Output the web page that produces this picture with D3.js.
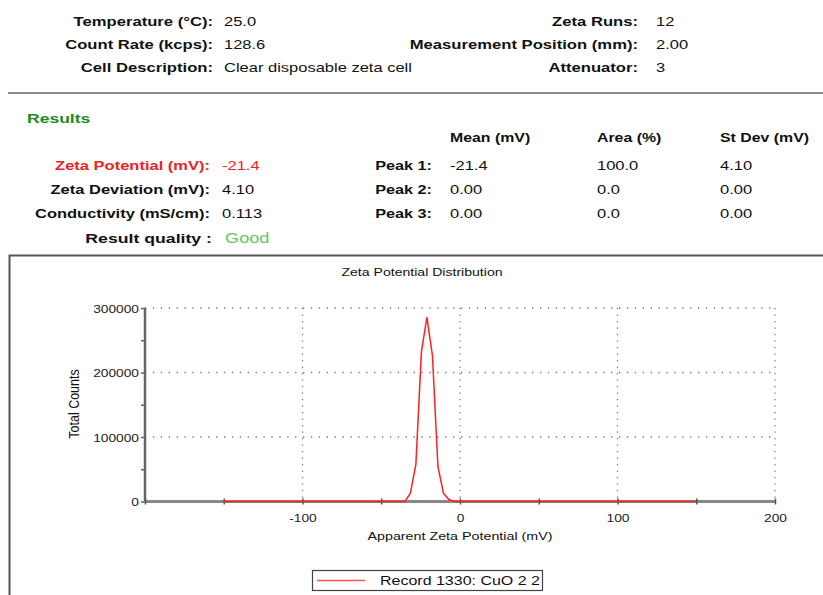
<!DOCTYPE html>
<html>
<head>
<meta charset="utf-8">
<script src="https://cdn.jsdelivr.net/npm/d3@7"></script>
<style>
  html, body { margin: 0; padding: 0; background: #fff; }
  svg { display: block; font-family: "Liberation Sans", Arial, sans-serif; }
</style>
</head>
<body>
<svg id="chart" width="823" height="595"></svg>
<script>
// ---- data ----
const potential = [-150, -35, -31.5, -28, -24.5, -21, -17.5, -14, -10.5, -7, -3.5, 0, 150];
const counts    = [0, 0, 13000, 58000, 232000, 286000, 226000, 54000, 13000, 3000, 0, 0, 0];
const xTicks = [-100, 0, 100, 200];
const yTicks = [0, 100000, 200000, 300000];
const seriesName = "Record 1330: CuO 2 2";

const infoLeft = [["Temperature (°C):", "25.0"], ["Count Rate (kcps):", "128.6"], ["Cell Description:", "Clear disposable zeta cell"]];
const infoRight = [["Zeta Runs:", "12"], ["Measurement Position (mm):", "2.00"], ["Attenuator:", "3"]];
const resultLabels = ["Zeta Potential (mV):", "Zeta Deviation (mV):", "Conductivity (mS/cm):", "Result quality :"];
const resultValues = ["-21.4", "4.10", "0.113", "Good"];
const peakNames = ["Peak 1:", "Peak 2:", "Peak 3:"];
const peakHeaders = ["Mean (mV)", "Area (%)", "St Dev (mV)"];
const peakMean = ["-21.4", "0.00", "0.00"];
const peakArea = ["100.0", "0.0", "0.0"];
const peakStdev = ["4.10", "0.00", "0.00"];

const svg = d3.select("#chart");
const SX = 1.27;

function txt(parent, x, y, str, o) {
  o = o || {};
  return parent.append("text")
    .attr("transform", `translate(${x},${y}) scale(${o.sx || SX},1)`)
    .attr("text-anchor", o.anchor || "start")
    .attr("font-size", o.size || 13)
    .attr("font-weight", o.weight || "normal")
    .attr("fill", o.fill || "#111")
    .text(str);
}

// ---- header info ----
const infoY = [26, 49, 72];
infoLeft.forEach((d, i) => {
  txt(svg, 213, infoY[i], d[0], {anchor: "end", weight: "bold", sx: 1.28});
  txt(svg, 224, infoY[i], d[1]);
});
infoRight.forEach((d, i) => {
  txt(svg, 638, infoY[i], d[0], {anchor: "end", weight: "bold", sx: 1.28});
  txt(svg, 656, infoY[i], d[1]);
});

// separator
svg.append("line").attr("x1", 8).attr("x2", 823).attr("y1", 93).attr("y2", 93)
  .attr("stroke", "#888").attr("stroke-width", 2);

// ---- results ----
txt(svg, 27, 123, "Results", {size: 13.5, weight: "bold", fill: "#1e8c1e", sx: 1.3});

const hdrX = [450, 597, 720];
peakHeaders.forEach((h, i) => txt(svg, hdrX[i], 142, h, {weight: "bold", sx: 1.22}));

const rowY = [170, 194, 218, 243];
resultLabels.forEach((l, i) => {
  const red = i === 0;
  const last = i === 3;
  txt(svg, last ? 212 : 210, rowY[i], l, {anchor: "end", weight: "bold",
      size: last ? 13.5 : 13, fill: red ? "#ee2222" : "#111", sx: last ? 1.31 : 1.27});
  txt(svg, last ? 225 : 222, rowY[i], resultValues[i], {size: last ? 14 : 13,
      fill: red ? "#ee2222" : (last ? "#66c466" : "#111"), sx: last ? 1.3 : 1.27});
});
peakNames.forEach((p, i) => {
  txt(svg, 432, rowY[i], p, {anchor: "end", weight: "bold", sx: 1.25});
  [peakMean[i], peakArea[i], peakStdev[i]].forEach((v, j) => txt(svg, hdrX[j], rowY[i], v));
});

// ---- chart frame ----
svg.append("path").attr("d", "M9.5,600 V255.5 H830")
  .attr("fill", "none").attr("stroke", "#555").attr("stroke-width", 2);

// ---- chart ----
const x = d3.scaleLinear().domain([-200, 200]).range([145, 775]);
const y = d3.scaleLinear().domain([0, 300000]).range([501.5, 308]);

txt(svg, 422, 276, "Zeta Potential Distribution", {anchor: "middle", size: 11, sx: 1.28});

// grid
const g = svg.append("g");
g.selectAll(".hg").data(yTicks.filter(d => d > 0)).join("line")
  .attr("x1", x(-200)).attr("x2", x(200)).attr("y1", d => y(d)).attr("y2", d => y(d))
  .attr("stroke", "#777").attr("stroke-width", 1.3).attr("stroke-dasharray", "1.3,6.6");
g.selectAll(".vg").data(xTicks).join("line")
  .attr("x1", d => x(d)).attr("x2", d => x(d)).attr("y1", y(300000)).attr("y2", y(0))
  .attr("stroke", "#777").attr("stroke-width", 1.3).attr("stroke-dasharray", "1.3,5.2");

// axes
const yAxis = d3.axisLeft(y).tickValues(d3.range(0, 300001, 50000)).tickSize(4)
  .tickFormat(d => yTicks.includes(d) ? d3.format("d")(d) : "");
const ya = svg.append("g").attr("transform", `translate(${x(-200)},0)`).call(yAxis);
ya.select(".domain").attr("stroke", "#666").attr("stroke-width", 2.5).attr("d", `M0,${y(300000)}V${y(0)}`);
ya.selectAll(".tick line").attr("stroke", "#666").attr("stroke-width", 1.5).attr("x1", 1);
ya.selectAll(".tick text").attr("font-size", 11).attr("fill", "#222").attr("x", 0).attr("dy", null)
  .attr("transform", "translate(-6,4) scale(1.25,1)")
  .attr("font-family", "Liberation Sans, Arial, sans-serif");

const xAxis = d3.axisBottom(x).tickValues(d3.range(-200, 201, 50)).tickSize(3)
  .tickFormat(d => xTicks.includes(d) ? d : "");
const xa = svg.append("g").attr("transform", `translate(0,${y(0)})`).call(xAxis);
xa.select(".domain").attr("stroke", "#888").attr("stroke-width", 3).attr("d", `M${x(-200)},0H${x(200)}`);
xa.selectAll(".tick line").attr("stroke", "#555").attr("stroke-width", 1.5).attr("y1", -3);
xa.selectAll(".tick text").attr("font-size", 11).attr("fill", "#222").attr("y", 0).attr("dy", null)
  .attr("transform", "translate(0,20) scale(1.25,1)")
  .attr("font-family", "Liberation Sans, Arial, sans-serif");

txt(svg, 460, 540, "Apparent Zeta Potential (mV)", {anchor: "middle", size: 11, sx: 1.3});
svg.append("text").attr("transform", "translate(79,404) rotate(-90) scale(1,1.15)")
  .attr("text-anchor", "middle").attr("font-size", 12.5).attr("fill", "#111").text("Total Counts");

// line
const line = d3.line().x((d, i) => x(potential[i])).y(d => y(d));
svg.append("path").datum(counts).attr("d", line)
  .attr("fill", "none").attr("stroke", "#ff2020").attr("stroke-width", 1.5);

// legend
svg.append("rect").attr("x", 312.5).attr("y", 570.5).attr("width", 230).attr("height", 20)
  .attr("fill", "#fff").attr("stroke", "#444").attr("stroke-width", 1.2);
svg.append("line").attr("x1", 317).attr("x2", 365).attr("y1", 580.5).attr("y2", 580.5)
  .attr("stroke", "#ff5050").attr("stroke-width", 1.5);
txt(svg, 380, 585, seriesName, {size: 12.5, sx: 1.28});
</script>
</body>
</html>
